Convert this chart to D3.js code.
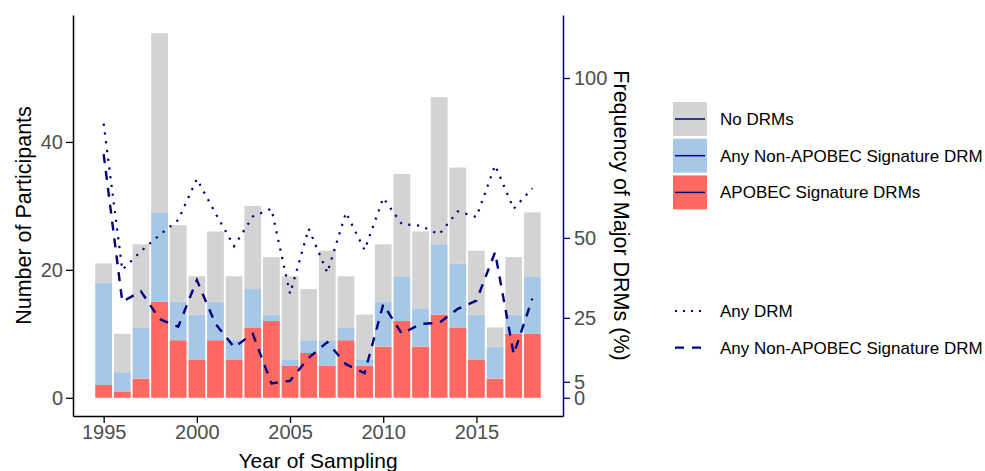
<!DOCTYPE html>
<html>
<head>
<meta charset="utf-8">
<script src="https://cdn.jsdelivr.net/npm/d3@7"></script>
<style>
  body { margin: 0; background: #fff; }
  text { font-family: "Liberation Sans", Arial, sans-serif; }
</style>
</head>
<body>
<script>
const w = 985
const h = 471

// data
const years = d3.range(1995, 2019)
const apobec    = [2, 1, 3, 15, 9, 6, 9, 6, 11, 12, 5, 7, 5, 9, 5, 8, 12, 8, 13, 11, 6, 3, 10, 10]
const nonApobec = [16, 3, 8, 14, 6, 7, 6, 3, 6, 1, 1, 2, 4, 2, 1, 7, 7, 6, 11, 10, 7, 5, 3, 9]
const noDrm     = [3, 6, 13, 28, 12, 6, 11, 10, 13, 9, 13, 8, 14, 8, 7, 9, 16, 12, 23, 15, 10, 3, 9, 10]
// frequencies in %
const anyDrmPct    = [85.7, 40, 45.8, 50.9, 55.6, 68.4, 57.7, 47.4, 56.7, 59.1, 32.5, 52.9, 39.1, 57.9, 46.2, 62.5, 54.3, 53.8, 51.1, 58.3, 56.5, 72.7, 59.1, 65.5]
const nonApobecPct = [76.2, 30, 33.3, 24.6, 22.2, 36.8, 23.1, 15.8, 20, 4.5, 5.3, 12.5, 17.4, 10.5, 7.7, 29.2, 20, 23.1, 23.4, 27.8, 30.4, 45.5, 13.6, 31]

const fillKeys = ["apobec", "nonApobec", "noDrm"]
const fillLabels = {noDrm: "No DRMs", nonApobec: "Any Non-APOBEC Signature DRM", apobec: "APOBEC Signature DRMs"}
const fillColors = {noDrm: "#d3d3d3", nonApobec: "#a7c7e7", apobec: "#ff6961"}
const leftTicks = [0, 20, 40]
const rightTicks = [0, 5, 25, 50, 100]
const xTicks = [1995, 2000, 2005, 2010, 2015]

const navy = "#000080"
const m = {left: 73, right: 563, top: 15, bottom: 416}

const rows = years.map((y, i) => ({year: y, apobec: apobec[i], nonApobec: nonApobec[i], noDrm: noDrm[i]}))
const stacked = d3.stack().keys(fillKeys)(rows)
const maxTotal = d3.max(rows, d => d.apobec + d.nonApobec + d.noDrm)

const x = d3.scaleLinear()
	.domain([1994.55 - 1.195, 2018.45 + 1.195])
	.range([m.left, m.right])
const y = d3.scaleLinear()
	.domain([-maxTotal * 0.05, maxTotal * 1.05])
	.range([m.bottom, m.top])
// secondary axis: percent = 2 * participants
const y2 = d3.scaleLinear()
	.domain(y.domain().map(v => v * 2))
	.range(y.range())

const svg = d3.select("body").append("svg")
	.attr("width", w).attr("height", h)

const bw = x(1995.9) - x(1995)
svg.append("g").selectAll("g")
	.data(stacked)
	.enter().append("g")
	.attr("fill", d => fillColors[d.key])
	.selectAll("rect")
	.data(d => d)
	.enter().append("rect")
	.attr("x", d => x(d.data.year) - bw / 2)
	.attr("width", bw)
	.attr("y", d => y(d[1]))
	.attr("height", d => y(d[0]) - y(d[1]))

const line = d3.line()
	.x((d, i) => x(years[i]))
	.y(d => y2(d))

svg.append("path")
	.attr("d", line(anyDrmPct))
	.attr("fill", "none")
	.attr("stroke", navy)
	.attr("stroke-width", 2.2)
	.attr("stroke-dasharray", "2.2,6.6")

svg.append("path")
	.attr("d", line(nonApobecPct))
	.attr("fill", "none")
	.attr("stroke", navy)
	.attr("stroke-width", 2.4)
	.attr("stroke-dasharray", "9,8")

// axes
const styleAxis = (g, col) => {
	g.select(".domain").attr("stroke", col).attr("stroke-width", 1.5)
	g.selectAll(".tick line").attr("stroke", col).attr("stroke-width", 1.3)
	g.selectAll(".tick text").attr("fill", "#4d4d4d").attr("font-size", "20px")
}

svg.append("g")
	.attr("transform", `translate(${m.left},0)`)
	.call(d3.axisLeft(y).tickValues(leftTicks).tickSize(7).tickPadding(3).tickSizeOuter(0))
	.call(g => styleAxis(g, "#000"))

svg.append("g")
	.attr("transform", `translate(${m.right},0)`)
	.call(d3.axisRight(y2).tickValues(rightTicks).tickSize(7).tickPadding(4).tickSizeOuter(0))
	.call(g => styleAxis(g, navy))

svg.append("g")
	.attr("transform", `translate(0,${m.bottom})`)
	.call(d3.axisBottom(x).tickValues(xTicks).tickFormat(d3.format("d")).tickSize(7).tickPadding(2).tickSizeOuter(0))
	.call(g => styleAxis(g, "#000"))

svg.selectAll(".domain").attr("fill", "none")

// axis titles
svg.append("text")
	.text("Number of Participants")
	.attr("transform", `translate(31,${(m.top + m.bottom) / 2}) rotate(-90)`)
	.attr("text-anchor", "middle")
	.attr("font-size", "21.5px")

svg.append("text")
	.text("Frequency of Major DRMs (%)")
	.attr("transform", `translate(614,${(m.top + m.bottom) / 2}) rotate(90)`)
	.attr("text-anchor", "middle")
	.attr("font-size", "21.5px")

svg.append("text")
	.text("Year of Sampling")
	.attr("x", (m.left + m.right) / 2)
	.attr("y", 468)
	.attr("text-anchor", "middle")
	.attr("font-size", "21px")

// legends
const legKeys = ["noDrm", "nonApobec", "apobec"]
const leg = svg.append("g").selectAll("g")
	.data(legKeys)
	.enter().append("g")
	.attr("transform", (d, i) => `translate(673,${102 + i * 36.7})`)
leg.append("rect")
	.attr("width", 34).attr("height", 34)
	.attr("fill", d => fillColors[d])
leg.append("line")
	.attr("x1", 2).attr("x2", 32).attr("y1", 17).attr("y2", 17)
	.attr("stroke", navy).attr("stroke-width", 1.5)
leg.append("text")
	.text(d => fillLabels[d])
	.attr("x", 47).attr("y", 17).attr("dy", "0.35em")
	.attr("font-size", "17px")

const lineLeg = [
	{label: "Any DRM", dash: "2,6", width: 2},
	{label: "Any Non-APOBEC Signature DRM", dash: "9,8", width: 2.2}
]
const leg2 = svg.append("g").selectAll("g")
	.data(lineLeg)
	.enter().append("g")
	.attr("transform", (d, i) => `translate(673,${311 + i * 36.6})`)
leg2.append("line")
	.attr("x1", 2).attr("x2", 34).attr("y1", 0).attr("y2", 0)
	.attr("stroke", navy)
	.attr("stroke-width", d => d.width)
	.attr("stroke-dasharray", d => d.dash)
leg2.append("text")
	.text(d => d.label)
	.attr("x", 47).attr("y", 0).attr("dy", "0.35em")
	.attr("font-size", "17px")
</script>
</body>
</html>
